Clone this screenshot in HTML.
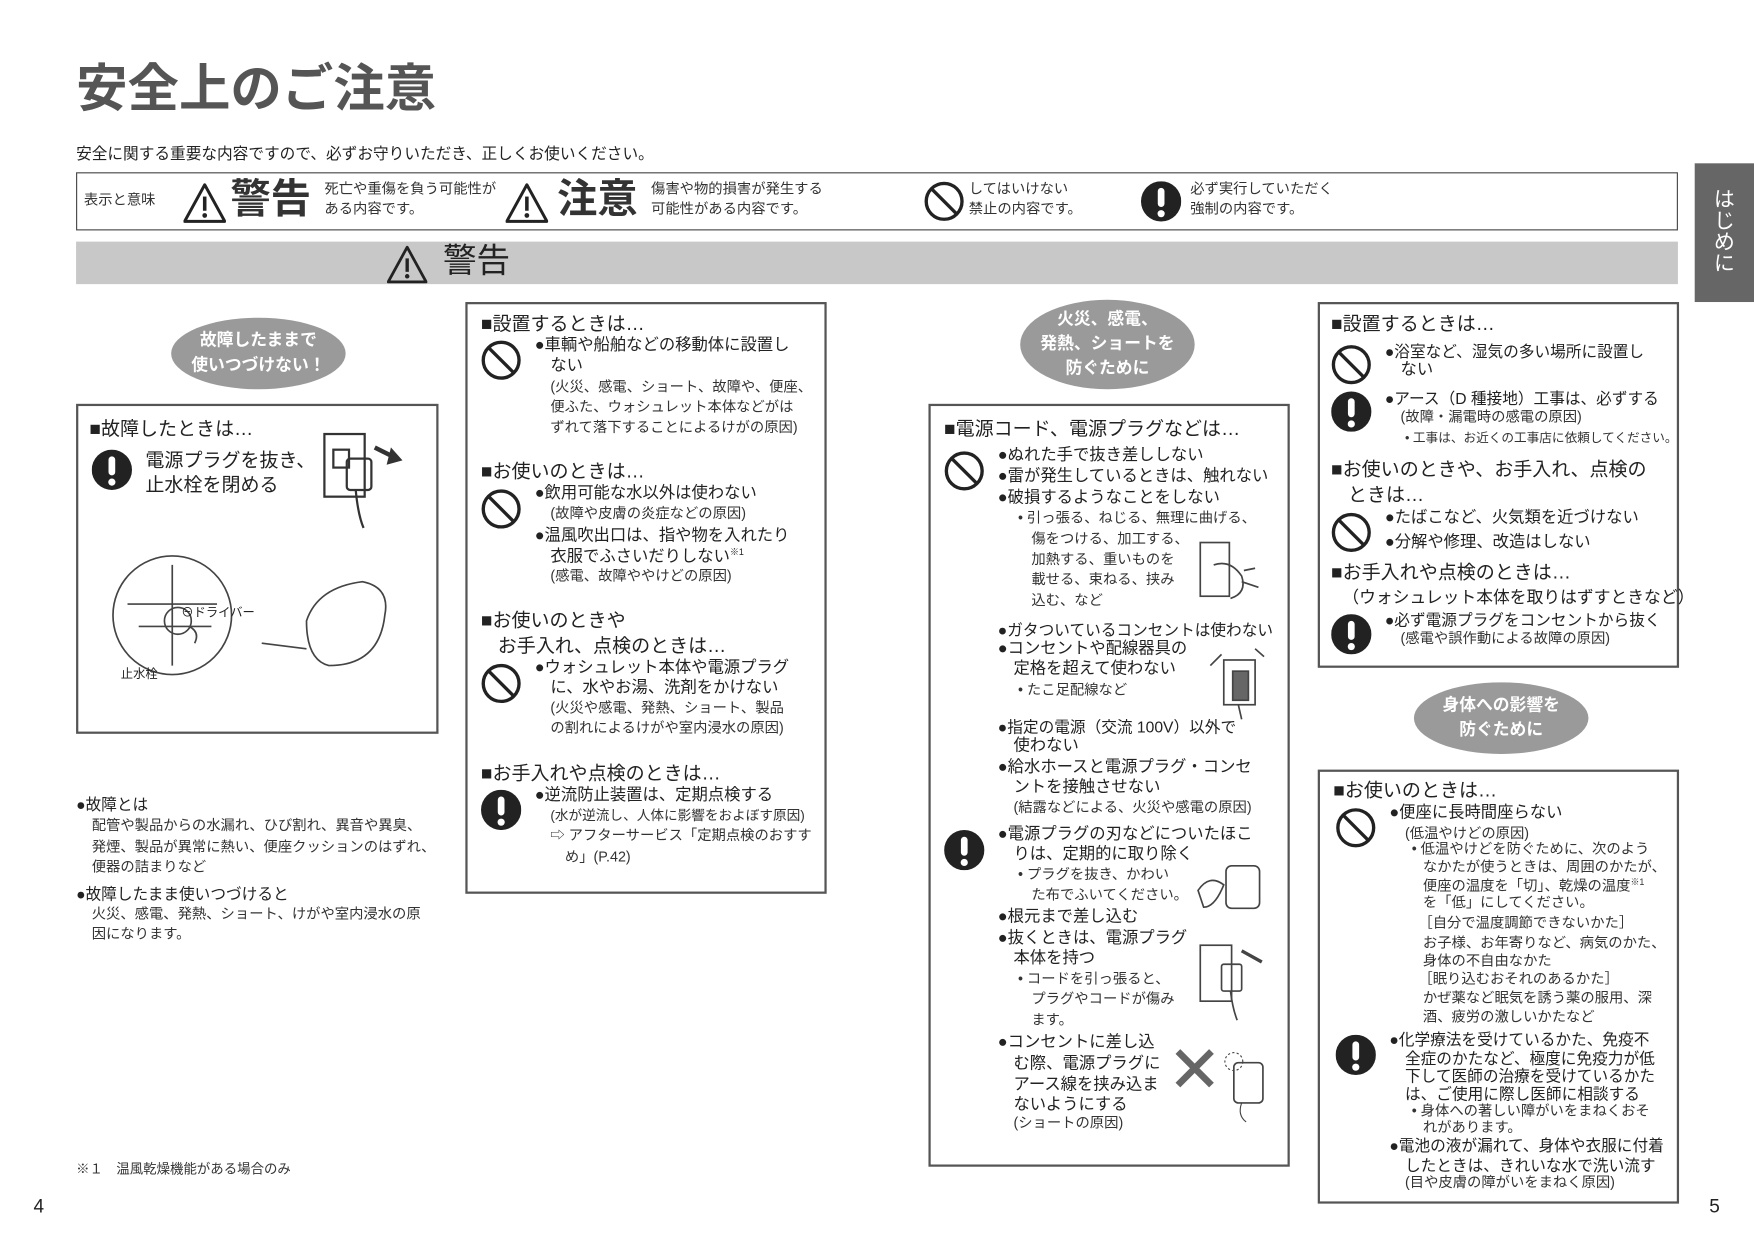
<!DOCTYPE html>
<html><head><meta charset="utf-8">
<style>
html,body{margin:0;padding:0;background:#fff;width:1754px;height:1240px;overflow:hidden}
#p{position:relative;width:1568px;height:1108px;transform:scale(1.11862);transform-origin:0 0;font-family:"Liberation Sans","Noto Sans CJK JP",sans-serif;color:#222}
.t{position:absolute;white-space:nowrap;font-size:14.6px;line-height:1}
.s{font-size:12.8px;color:#333}
.h{font-size:17px}
.n{font-size:14px}
.box{position:absolute;border:2px solid #555;box-sizing:border-box}
.oval{position:absolute;background:#9a9a9a;border-radius:50%;color:#fff;font-weight:bold;font-size:15px;text-align:center;display:flex;align-items:center;justify-content:center;line-height:1.45}
svg.i{position:absolute}
</style></head><body><div id="p">
<svg width="0" height="0" style="position:absolute"><defs>
<g id="no"><circle cx="18" cy="18" r="16" fill="none" stroke="#222" stroke-width="3"/><line x1="7" y1="7" x2="29" y2="29" stroke="#222" stroke-width="3"/></g>
<g id="ex"><circle cx="18" cy="18" r="18" fill="#222"/><rect x="15" y="6" width="6" height="17" rx="3" fill="#fff"/><circle cx="18" cy="29" r="3.2" fill="#fff"/></g>
<g id="tri"><path d="M18 3 L35 34 L1 34 Z" fill="none" stroke="#222" stroke-width="2.5" stroke-linejoin="round"/><rect x="16.5" y="13" width="3" height="12" fill="#222"/><circle cx="18" cy="29" r="2" fill="#222"/></g>
</defs></svg>

<div class="t" style="left:68px;top:56px;font-size:46px;font-weight:bold;color:#555">安全上のご注意</div>
<div class="t" style="left:68px;top:130px;font-size:14px">安全に関する重要な内容ですので、必ずお守りいただき、正しくお使いください。</div>

<div style="position:absolute;left:68px;top:154px;width:1432px;height:52px;border:1px solid #444;box-sizing:border-box"></div>
<div class="t s" style="left:75px;top:173px">表示と意味</div>
<svg class="i" style="left:164px;top:162px" width="38" height="38" viewBox="0 0 36 36"><use href="#tri"/></svg>
<div class="t" style="left:206px;top:160px;font-size:36px;font-weight:bold;color:#333">警告</div>
<div class="t s" style="left:290px;top:163px">死亡や重傷を負う可能性が</div>
<div class="t s" style="left:290px;top:181px">ある内容です。</div>
<svg class="i" style="left:452px;top:162px" width="38" height="38" viewBox="0 0 36 36"><use href="#tri"/></svg>
<div class="t" style="left:498px;top:160px;font-size:36px;font-weight:bold;color:#333">注意</div>
<div class="t s" style="left:582px;top:163px">傷害や物的損害が発生する</div>
<div class="t s" style="left:582px;top:181px">可能性がある内容です。</div>
<svg class="i" style="left:826px;top:162px" width="36" height="36"><use href="#no"/></svg>
<div class="t s" style="left:866px;top:163px">してはいけない</div>
<div class="t s" style="left:866px;top:181px">禁止の内容です。</div>
<svg class="i" style="left:1020px;top:162px" width="36" height="36"><use href="#ex"/></svg>
<div class="t s" style="left:1064px;top:163px">必ず実行していただく</div>
<div class="t s" style="left:1064px;top:181px">強制の内容です。</div>

<div style="position:absolute;left:68px;top:216px;width:1432px;height:38px;background:#c8c8c8"></div>
<svg class="i" style="left:346px;top:218px" width="36" height="36" viewBox="0 0 36 36"><use href="#tri"/></svg>
<div class="t" style="left:396px;top:219px;font-size:30px;color:#222">警告</div>

<div style="position:absolute;left:1515px;top:146px;width:53px;height:124px;background:#666"></div>
<div class="t" style="left:1530px;top:168px;color:#fff;font-size:19px;writing-mode:vertical-rl">はじめに</div>

<!-- Column 1 -->
<div class="oval" style="left:153px;top:284px;width:156px;height:64px">故障したままで<br>使いつづけない！</div>
<div class="box" style="left:68px;top:361px;width:324px;height:295px"></div>
<div class="t h" style="left:80px;top:375px">■故障したときは…</div>
<svg class="i" style="left:82px;top:402px" width="36" height="36"><use href="#ex"/></svg>
<div class="t h" style="left:130px;top:403px">電源プラグを抜き、</div>
<div class="t h" style="left:130px;top:425px">止水栓を閉める</div>
<svg class="i" style="left:280px;top:380px" width="90" height="100" fill="none" stroke="#333" stroke-width="2">
<rect x="10" y="8" width="36" height="56"/><rect x="18" y="22" width="14" height="16"/><rect x="30" y="30" width="22" height="28" rx="3"/>
<path d="M38 58 Q40 80 45 92"/><path d="M55 20 L75 30" stroke-width="4"/><path d="M70 22 L78 31 L67 34 Z" fill="#333"/></svg>
<svg class="i" style="left:94px;top:495px" width="280" height="120" fill="none" stroke="#444" stroke-width="1.5">
<circle cx="60" cy="55" r="53"/><path d="M20 45 L100 45 M30 65 L95 65 M60 10 L60 100"/><circle cx="65" cy="60" r="12"/>
<path d="M75 65 Q85 70 80 80"/><path d="M180 60 Q190 30 230 25 Q255 30 250 55 Q245 100 200 100 Q180 95 180 60 Z"/><path d="M140 80 L180 85"/></svg>
<div class="t" style="left:162px;top:543px;font-size:11px">⊖ドライバー</div>
<div class="t" style="left:108px;top:598px;font-size:11px">止水栓</div>

<div class="t" style="left:68px;top:712px;font-size:14px">●故障とは</div>
<div class="t s" style="left:82px;top:732px">配管や製品からの水漏れ、ひび割れ、異音や異臭、</div>
<div class="t s" style="left:82px;top:751px">発煙、製品が異常に熱い、便座クッションのはずれ、</div>
<div class="t s" style="left:82px;top:769px">便器の詰まりなど</div>
<div class="t" style="left:68px;top:792px;font-size:14px">●故障したまま使いつづけると</div>
<div class="t s" style="left:82px;top:811px">火災、感電、発熱、ショート、けがや室内浸水の原</div>
<div class="t s" style="left:82px;top:829px">因になります。</div>
<div class="t s" style="left:68px;top:1039px;font-size:12px">※１　温風乾燥機能がある場合のみ</div>
<div class="t" style="left:30px;top:1070px;font-size:17px">4</div>
<div class="t" style="left:1528px;top:1070px;font-size:17px">5</div>

<!-- Column 2 -->
<div class="box" style="left:416px;top:270px;width:323px;height:529px"></div>
<div class="t h" style="left:430px;top:281px">■設置するときは…</div>
<svg class="i" style="left:430px;top:304px" width="36" height="36"><use href="#no"/></svg>
<div class="t" style="left:478px;top:302px">●車輌や船舶などの移動体に設置し</div>
<div class="t" style="left:492px;top:320px">ない</div>
<div class="t s" style="left:492px;top:340px">(火災、感電、ショート、故障や、便座、</div>
<div class="t s" style="left:492px;top:358px">便ふた、ウォシュレット本体などがは</div>
<div class="t s" style="left:492px;top:376px">ずれて落下することによるけがの原因)</div>
<div class="t h" style="left:430px;top:413px">■お使いのときは…</div>
<svg class="i" style="left:430px;top:437px" width="36" height="36"><use href="#no"/></svg>
<div class="t" style="left:478px;top:434px">●飲用可能な水以外は使わない</div>
<div class="t s" style="left:492px;top:453px">(故障や皮膚の炎症などの原因)</div>
<div class="t" style="left:478px;top:472px">●温風吹出口は、指や物を入れたり</div>
<div class="t" style="left:492px;top:490px">衣服でふさいだりしない<sup style="font-size:8px">※1</sup></div>
<div class="t s" style="left:492px;top:509px">(感電、故障ややけどの原因)</div>
<div class="t h" style="left:430px;top:546px">■お使いのときや</div>
<div class="t h" style="left:445px;top:569px">お手入れ、点検のときは…</div>
<svg class="i" style="left:430px;top:593px" width="36" height="36"><use href="#no"/></svg>
<div class="t" style="left:478px;top:590px">●ウォシュレット本体や電源プラグ</div>
<div class="t" style="left:492px;top:608px">に、水やお湯、洗剤をかけない</div>
<div class="t s" style="left:492px;top:627px">(火災や感電、発熱、ショート、製品</div>
<div class="t s" style="left:492px;top:645px">の割れによるけがや室内浸水の原因)</div>
<div class="t h" style="left:430px;top:683px">■お手入れや点検のときは…</div>
<svg class="i" style="left:430px;top:706px" width="36" height="36"><use href="#ex"/></svg>
<div class="t" style="left:478px;top:704px">●逆流防止装置は、定期点検する</div>
<div class="t s" style="left:492px;top:723px;font-size:12.2px">(水が逆流し、人体に影響をおよぼす原因)</div>
<div class="t s" style="left:492px;top:741px">⇨ アフターサービス「定期点検のおすす</div>
<div class="t s" style="left:505px;top:760px">め」(P.42)</div>

<!-- Column 3 -->
<div class="oval" style="left:912px;top:268px;width:156px;height:80px">火災、感電、<br>発熱、ショートを<br>防ぐために</div>
<div class="box" style="left:830px;top:361px;width:323px;height:682px"></div>
<div class="t h" style="left:844px;top:375px">■電源コード、電源プラグなどは…</div>
<svg class="i" style="left:844px;top:403px" width="36" height="36"><use href="#no"/></svg>
<div class="t" style="left:892px;top:400px">●ぬれた手で抜き差ししない</div>
<div class="t" style="left:892px;top:419px">●雷が発生しているときは、触れない</div>
<div class="t" style="left:892px;top:438px">●破損するようなことをしない</div>
<div class="t s" style="left:910px;top:457px">• 引っ張る、ねじる、無理に曲げる、</div>
<div class="t s" style="left:922px;top:476px">傷をつける、加工する、</div>
<div class="t s" style="left:922px;top:494px">加熱する、重いものを</div>
<div class="t s" style="left:922px;top:512px">載せる、束ねる、挟み</div>
<div class="t s" style="left:922px;top:531px">込む、など</div>
<svg class="i" style="left:1070px;top:480px" width="60" height="70" fill="none" stroke="#444" stroke-width="1.5"><rect x="3" y="5" width="26" height="48"/><path d="M15 25 Q30 20 40 35 Q45 50 30 55 M40 40 L55 45 M42 30 L52 28"/></svg>
<div class="t n" style="left:892px;top:556px">●ガタついているコンセントは使わない</div>
<div class="t" style="left:892px;top:573px">●コンセントや配線器具の</div>
<div class="t" style="left:906px;top:591px">定格を超えて使わない</div>
<div class="t s" style="left:910px;top:611px">• たこ足配線など</div>
<svg class="i" style="left:1072px;top:575px" width="60" height="70" fill="none" stroke="#444" stroke-width="1.5"><rect x="22" y="15" width="28" height="40"/><rect x="30" y="25" width="14" height="26" fill="#666"/><path d="M10 20 L20 10 M50 5 L58 12 M35 55 L38 68"/></svg>
<div class="t n" style="left:892px;top:643px">●指定の電源（交流 100V）以外で</div>
<div class="t" style="left:906px;top:660px">使わない</div>
<div class="t" style="left:892px;top:679px">●給水ホースと電源プラグ・コンセ</div>
<div class="t" style="left:906px;top:697px">ントを接触させない</div>
<div class="t s" style="left:906px;top:716px">(結露などによる、火災や感電の原因)</div>
<svg class="i" style="left:844px;top:742px" width="36" height="36"><use href="#ex"/></svg>
<div class="t" style="left:892px;top:739px">●電源プラグの刃などについたほこ</div>
<div class="t" style="left:906px;top:757px">りは、定期的に取り除く</div>
<div class="t s" style="left:910px;top:776px">• プラグを抜き、かわい</div>
<div class="t s" style="left:922px;top:794px">た布でふいてください。</div>
<svg class="i" style="left:1066px;top:766px" width="70" height="60" fill="none" stroke="#444" stroke-width="1.5"><rect x="30" y="8" width="30" height="38" rx="5"/><path d="M5 30 Q15 15 28 25 Q20 45 10 45 Z"/></svg>
<div class="t" style="left:892px;top:813px">●根元まで差し込む</div>
<div class="t" style="left:892px;top:832px">●抜くときは、電源プラグ</div>
<div class="t" style="left:906px;top:850px">本体を持つ</div>
<div class="t s" style="left:910px;top:869px">• コードを引っ張ると、</div>
<div class="t s" style="left:922px;top:887px">プラグやコードが傷み</div>
<div class="t s" style="left:922px;top:906px">ます。</div>
<svg class="i" style="left:1070px;top:840px" width="65" height="75" fill="none" stroke="#444" stroke-width="1.5"><rect x="3" y="5" width="28" height="50"/><rect x="22" y="22" width="18" height="24" rx="2"/><path d="M30 46 Q32 62 36 72"/><path d="M40 10 L58 20" stroke-width="3"/></svg>
<div class="t" style="left:892px;top:925px">●コンセントに差し込</div>
<div class="t" style="left:906px;top:944px">む際、電源プラグに</div>
<div class="t" style="left:906px;top:963px">アース線を挟み込ま</div>
<div class="t" style="left:906px;top:981px">ないようにする</div>
<div class="t s" style="left:906px;top:998px">(ショートの原因)</div>
<svg class="i" style="left:1048px;top:935px" width="85" height="70"><path d="M5 5 L35 35 M35 5 L5 35" stroke="#666" stroke-width="6"/><rect x="55" y="15" width="26" height="36" rx="4" fill="none" stroke="#444" stroke-width="1.5"/><circle cx="55" cy="14" r="8" fill="none" stroke="#444" stroke-dasharray="2 2"/><path d="M62 51 Q58 62 66 68" fill="none" stroke="#444"/></svg>

<!-- Column 4 -->
<div class="box" style="left:1178px;top:270px;width:323px;height:327px"></div>
<div class="t h" style="left:1190px;top:281px">■設置するときは…</div>
<svg class="i" style="left:1190px;top:308px" width="36" height="36"><use href="#no"/></svg>
<div class="t n" style="left:1238px;top:307px">●浴室など、湿気の多い場所に設置し</div>
<div class="t" style="left:1252px;top:324px">ない</div>
<svg class="i" style="left:1190px;top:350px" width="36" height="36"><use href="#ex"/></svg>
<div class="t n" style="left:1238px;top:349px">●アース（D 種接地）工事は、必ずする</div>
<div class="t s" style="left:1252px;top:367px">(故障・漏電時の感電の原因)</div>
<div class="t s" style="left:1256px;top:387px;font-size:11.3px">• 工事は、お近くの工事店に依頼してください。</div>
<div class="t h" style="left:1190px;top:411px">■お使いのときや、お手入れ、点検の</div>
<div class="t h" style="left:1205px;top:434px">ときは…</div>
<svg class="i" style="left:1190px;top:458px" width="36" height="36"><use href="#no"/></svg>
<div class="t" style="left:1238px;top:456px">●たばこなど、火気類を近づけない</div>
<div class="t" style="left:1238px;top:478px">●分解や修理、改造はしない</div>
<div class="t h" style="left:1190px;top:503px">■お手入れや点検のときは…</div>
<div class="t" style="left:1200px;top:527px;font-size:15px">（ウォシュレット本体を取りはずすときなど）</div>
<svg class="i" style="left:1190px;top:549px" width="36" height="36"><use href="#ex"/></svg>
<div class="t n" style="left:1238px;top:547px">●必ず電源プラグをコンセントから抜く</div>
<div class="t s" style="left:1252px;top:565px">(感電や誤作動による故障の原因)</div>

<div class="oval" style="left:1264px;top:610px;width:156px;height:64px">身体への影響を<br>防ぐために</div>
<div class="box" style="left:1178px;top:688px;width:323px;height:388px"></div>
<div class="t h" style="left:1192px;top:698px">■お使いのときは…</div>
<svg class="i" style="left:1194px;top:722px" width="36" height="36"><use href="#no"/></svg>
<div class="t" style="left:1242px;top:720px">●便座に長時間座らない</div>
<div class="t s" style="left:1256px;top:739px">(低温やけどの原因)</div>
<div class="t s" style="left:1262px;top:753px">• 低温やけどを防ぐために、次のよう</div>
<div class="t s" style="left:1272px;top:769px">なかたが使うときは、周囲のかたが、</div>
<div class="t s" style="left:1272px;top:785px">便座の温度を「切」、乾燥の温度<sup style="font-size:8px">※1</sup></div>
<div class="t s" style="left:1272px;top:801px">を「低」にしてください。</div>
<div class="t s" style="left:1268px;top:819px">［自分で温度調節できないかた］</div>
<div class="t s" style="left:1272px;top:837px">お子様、お年寄りなど、病気のかた、</div>
<div class="t s" style="left:1272px;top:853px">身体の不自由なかた</div>
<div class="t s" style="left:1268px;top:869px">［眠り込むおそれのあるかた］</div>
<div class="t s" style="left:1272px;top:886px">かぜ薬など眠気を誘う薬の服用、深</div>
<div class="t s" style="left:1272px;top:903px">酒、疲労の激しいかたなど</div>
<svg class="i" style="left:1194px;top:925px" width="36" height="36"><use href="#ex"/></svg>
<div class="t n" style="left:1242px;top:922px">●化学療法を受けているかた、免疫不</div>
<div class="t n" style="left:1256px;top:939px">全症のかたなど、極度に免疫力が低</div>
<div class="t n" style="left:1256px;top:955px">下して医師の治療を受けているかた</div>
<div class="t n" style="left:1256px;top:971px">は、ご使用に際し医師に相談する</div>
<div class="t s" style="left:1262px;top:987px">• 身体への著しい障がいをまねくおそ</div>
<div class="t s" style="left:1272px;top:1002px">れがあります。</div>
<div class="t n" style="left:1242px;top:1017px">●電池の液が漏れて、身体や衣服に付着</div>
<div class="t n" style="left:1256px;top:1035px">したときは、きれいな水で洗い流す</div>
<div class="t s" style="left:1256px;top:1051px">(目や皮膚の障がいをまねく原因)</div>
</div></body></html>
